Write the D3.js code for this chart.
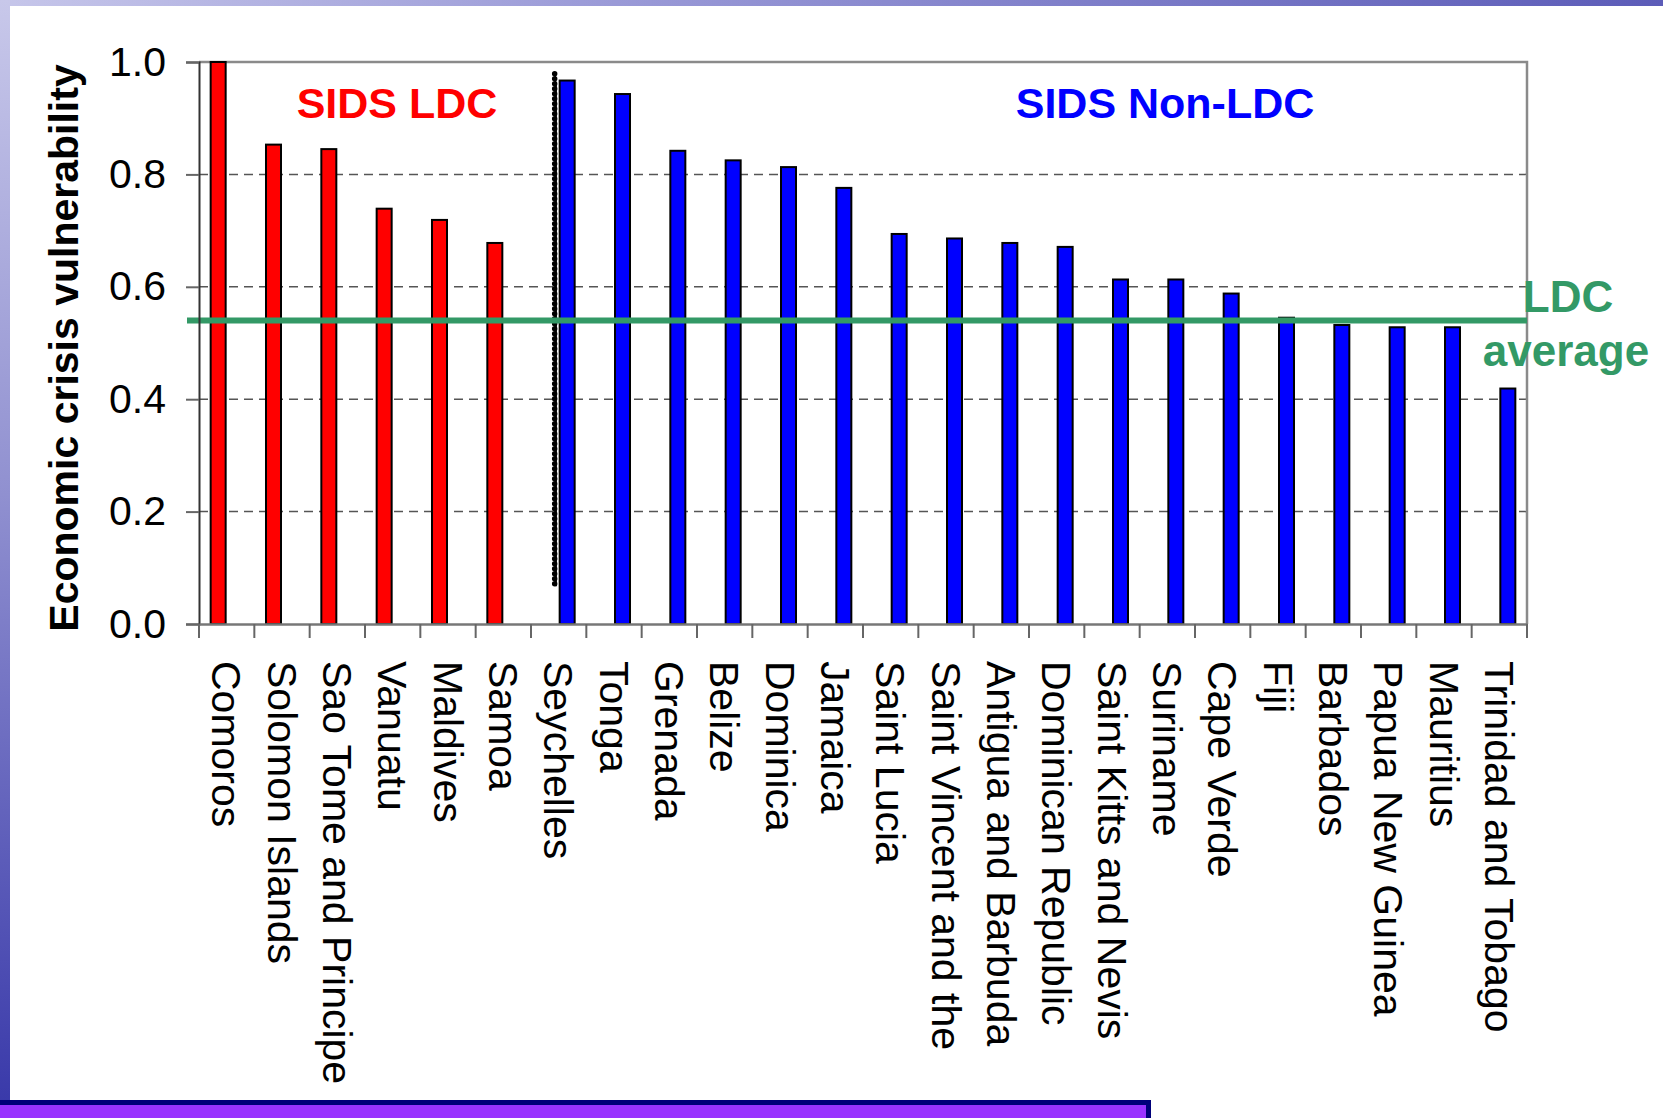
<!DOCTYPE html>
<html>
<head>
<meta charset="utf-8">
<script src="https://cdn.jsdelivr.net/npm/d3@7"></script>
<style>
  html, body { margin: 0; padding: 0; background: #fff; }
  svg { display: block; font-family: "Liberation Sans", Arial, sans-serif; }
</style>
</head>
<body>
<svg id="chart" width="1663" height="1118"></svg>
<script>
// Small island developing states: economic crisis vulnerability index
const ldcCountries = ["Comoros", "Solomon Islands", "Sao Tome and Principe", "Vanuatu", "Maldives", "Samoa"];
const ldcScores = [1.0, 0.853, 0.845, 0.739, 0.719, 0.678];

const nonLdcCountries = ["Seychelles", "Tonga", "Grenada", "Belize", "Dominica", "Jamaica",
  "Saint Lucia", "Saint Vincent and the", "Antigua and Barbuda", "Dominican Republic",
  "Saint Kitts and Nevis", "Suriname", "Cape Verde", "Fiji", "Barbados",
  "Papua New Guinea", "Mauritius", "Trinidad and Tobago"];
const nonLdcScores = [0.967, 0.943, 0.842, 0.825, 0.813, 0.776, 0.694, 0.686, 0.678, 0.671,
  0.613, 0.613, 0.588, 0.545, 0.532, 0.528, 0.528, 0.419];

const seriesNames = ["SIDS LDC", "SIDS Non-LDC"];
const seriesColors = ["#ff0000", "#0000ff"];
const ldcAverage = 0.54;
const yTicks = [0, 0.2, 0.4, 0.6, 0.8, 1.0];

const categories = ldcCountries.concat(nonLdcCountries);
const bars = ldcCountries.map((c, i) => ({ country: c, series: seriesNames[0], value: ldcScores[i] }))
  .concat(nonLdcCountries.map((c, i) => ({ country: c, series: seriesNames[1], value: nonLdcScores[i] })));

const svg = d3.select("#chart");
const W = 1663, H = 1118;

// ---- slide background ----
const defs = svg.append("defs");
const topGrad = defs.append("linearGradient").attr("id", "topGrad")
  .attr("x1", "0").attr("x2", "1").attr("y1", "0").attr("y2", "0");
topGrad.append("stop").attr("offset", "0").attr("stop-color", "#c6c6ea");
topGrad.append("stop").attr("offset", "0.35").attr("stop-color", "#9c9cd8");
topGrad.append("stop").attr("offset", "1").attr("stop-color", "#5c5cb8");
const leftGrad = defs.append("linearGradient").attr("id", "leftGrad")
  .attr("x1", "0").attr("x2", "0").attr("y1", "0").attr("y2", "1");
leftGrad.append("stop").attr("offset", "0").attr("stop-color", "#c8c8ea");
leftGrad.append("stop").attr("offset", "0.45").attr("stop-color", "#9090d0");
leftGrad.append("stop").attr("offset", "1").attr("stop-color", "#3a3aaa");

svg.append("rect").attr("x", 0).attr("y", 0).attr("width", W).attr("height", H).attr("fill", "#fff");
svg.append("rect").attr("x", 0).attr("y", 0).attr("width", W).attr("height", 6).attr("fill", "url(#topGrad)");
svg.append("rect").attr("x", 0).attr("y", 0).attr("width", 10).attr("height", 1100).attr("fill", "url(#leftGrad)");
// bottom banner
svg.append("rect").attr("x", -10).attr("y", 1102.5).attr("width", 1158.5).attr("height", 40)
  .attr("fill", "#9933ff").attr("stroke", "#00007a").attr("stroke-width", 5);

// ---- chart ----
const plot = { left: 199, right: 1527, top: 62, bottom: 624 };

const x0 = d3.scaleBand().domain(categories).range([plot.left, plot.right]).padding(0);
const x1 = d3.scaleBand().domain(seriesNames).range([0, x0.bandwidth()])
  .paddingInner(0).paddingOuter(0.627);
const y = d3.scaleLinear().domain([0, 1]).range([plot.bottom, plot.top]);
const color = d3.scaleOrdinal().domain(seriesNames).range(seriesColors);

const g = svg.append("g");

// dashed gridlines
g.append("g").selectAll("line").data(yTicks.filter(t => t > 0 && t < 1)).join("line")
  .attr("x1", plot.left).attr("x2", plot.right)
  .attr("y1", d => y(d)).attr("y2", d => y(d))
  .attr("stroke", "#555").attr("stroke-width", 1.5).attr("stroke-dasharray", "9,6");

// plot frame (top and right)
g.append("path")
  .attr("d", `M${plot.left},${y(1)}H${plot.right}V${plot.bottom}`)
  .attr("fill", "none").attr("stroke", "#8a8a8a").attr("stroke-width", 2.5);

// bars
g.append("g").selectAll("rect").data(bars).join("rect")
  .attr("x", d => x0(d.country) + x1(d.series) + 1)
  .attr("width", x1.bandwidth() - 2)
  .attr("y", d => y(d.value))
  .attr("height", d => y(0) - y(d.value))
  .attr("fill", d => color(d.series))
  .attr("stroke", "#000").attr("stroke-width", 2);

// dotted separator between groups
const sepX = x0(nonLdcCountries[0]) + x0.bandwidth() / 2 - 4;
g.append("line")
  .attr("x1", sepX).attr("x2", sepX).attr("y1", y(0.979)).attr("y2", y(0.067))
  .attr("stroke", "#000").attr("stroke-width", 5.5)
  .attr("stroke-linecap", "round").attr("stroke-dasharray", "0,5");
g.append("line")
  .attr("x1", sepX + 1.5).attr("x2", sepX + 1.5).attr("y1", y(0.965)).attr("y2", y(0.067))
  .attr("stroke", "#000").attr("stroke-width", 1.5);

// LDC average line
g.append("line")
  .attr("x1", plot.left - 12).attr("x2", plot.right)
  .attr("y1", y(ldcAverage)).attr("y2", y(ldcAverage))
  .attr("stroke", "#339966").attr("stroke-width", 6);

// y axis
const yAxis = g.append("g").attr("transform", `translate(${plot.left},0)`)
  .call(d3.axisLeft(y).tickValues(yTicks).tickFormat(d3.format(".1f")).tickSize(13).tickPadding(20));
yAxis.select(".domain").attr("stroke", "#333").attr("stroke-width", 2);
yAxis.selectAll(".tick line").attr("stroke", "#666").attr("stroke-width", 2);
yAxis.selectAll(".tick text").attr("font-size", 41).attr("fill", "#000")
  .attr("font-family", "'Liberation Sans', Arial, sans-serif");

// x axis with category labels rotated
const xAxis = g.append("g").attr("transform", `translate(0,${plot.bottom})`)
  .call(d3.axisBottom(x0).tickSize(0));
xAxis.select(".domain").attr("stroke", "#777").attr("stroke-width", 2.5);
xAxis.selectAll(".tick text")
  .attr("font-size", 41).attr("fill", "#000")
  .attr("font-family", "'Liberation Sans', Arial, sans-serif")
  .attr("transform", "rotate(90)")
  .attr("x", 37).attr("y", 0).attr("dy", "0.35em")
  .attr("text-anchor", "start");
// tick marks at category boundaries
const boundaries = categories.map(c => x0(c)).concat([x0.range()[1]]);
xAxis.append("g").selectAll("line").data(boundaries).join("line")
  .attr("x1", d => d).attr("x2", d => d).attr("y1", 0).attr("y2", 14)
  .attr("stroke", "#666").attr("stroke-width", 2);

// y axis title
svg.append("text")
  .attr("transform", `translate(78,${(plot.top + plot.bottom) / 2 + 5}) rotate(-90)`)
  .attr("text-anchor", "middle").attr("font-size", 41).attr("font-weight", "bold")
  .text("Economic crisis vulnerability");

// group labels
svg.append("text").attr("x", 397)
  .attr("y", 118).attr("text-anchor", "middle")
  .attr("font-size", 43).attr("font-weight", "bold").attr("fill", seriesColors[0])
  .text(seriesNames[0]);
svg.append("text").attr("x", 1165)
  .attr("y", 118).attr("text-anchor", "middle")
  .attr("font-size", 43).attr("font-weight", "bold").attr("fill", seriesColors[1])
  .text(seriesNames[1]);

// average label
const avgLabel = svg.append("text").attr("text-anchor", "middle")
  .attr("font-size", 44).attr("font-weight", "bold").attr("fill", "#339966");
avgLabel.append("tspan").attr("x", 1568).attr("y", y(ldcAverage) - 9).text("LDC");
avgLabel.append("tspan").attr("x", 1566).attr("y", y(ldcAverage) + 45).text("average");
</script>
</body>
</html>
